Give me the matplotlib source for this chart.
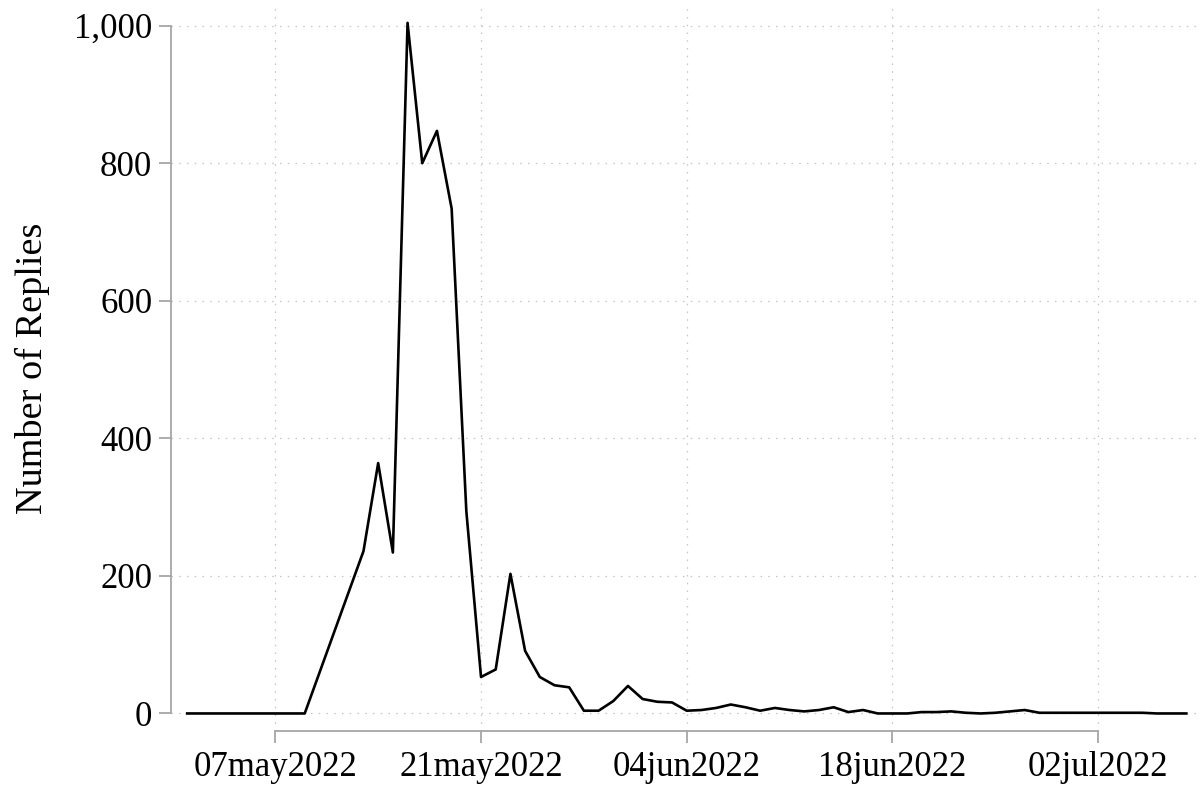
import matplotlib
matplotlib.use("Agg")
import matplotlib.pyplot as plt
import matplotlib.dates as mdates
import pandas as pd

# daily replies (no observations for 10-12 may)
dates = list(pd.date_range("2022-05-01", "2022-05-09")) + list(pd.date_range("2022-05-13", "2022-07-08"))
replies = [0, 0, 0, 0, 0, 0, 0, 0, 0,
           236, 364, 234, 1004, 800, 847, 734, 294,
           53, 64, 203, 91, 53, 41, 38, 4, 4, 18, 40,
           21, 17, 16, 4, 5, 8, 13, 9, 4, 8, 5, 3, 5, 9, 2, 5, 0,
           0, 0, 2, 2, 3, 1, 0, 1, 3, 5, 1, 1, 1, 1,
           1, 1, 1, 1, 0, 0, 0]

x_ticks = pd.to_datetime(["2022-05-07", "2022-05-21", "2022-06-04", "2022-06-18", "2022-07-02"])
x_labels = ["07may2022", "21may2022", "04jun2022", "18jun2022", "02jul2022"]
y_ticks = [0, 200, 400, 600, 800, 1000]
y_labels = ["0", "200", "400", "600", "800", "1,000"]

plt.rcParams['font.family'] = ['Liberation Serif', 'DejaVu Serif']
gray = "#a6a6a6"

fig = plt.figure(figsize=(12.01, 7.87), dpi=100)
W, H = 1201, 787
left, right, top, bottom = 171, 1201, 5, 731
ax = fig.add_axes([left / W, (H - bottom) / H, (right - left) / W, (bottom - top) / H])

ax.plot(dates, replies, color="black", linewidth=1.9, clip_on=False, zorder=3)

ax.set_xlim(pd.Timestamp("2022-05-07") - pd.Timedelta(days=7.1), pd.Timestamp("2022-07-02") + pd.Timedelta(days=7.0))
ax.set_ylim(-25.5, 1030)

ax.set_xticks(x_ticks)
ax.set_xticklabels(x_labels)
ax.set_yticks(y_ticks)
ax.set_yticklabels(y_labels)

ax.grid(True, color="#c4c4c4", linestyle=(0, (1.2, 5)), linewidth=0.9)
ax.set_axisbelow(True)

for s in ["top", "right"]:
    ax.spines[s].set_visible(False)
for s in ["left", "bottom"]:
    ax.spines[s].set_color(gray)
    ax.spines[s].set_linewidth(1.3)
ax.spines["left"].set_bounds(0, 1000)
ax.spines["bottom"].set_bounds(mdates.date2num(x_ticks[0]), mdates.date2num(x_ticks[-1]))

ax.tick_params(axis="both", colors=gray, length=8.5, width=1.3, labelcolor="black", labelsize=25)
ax.tick_params(axis="x", pad=6)
ax.tick_params(axis="y", pad=5)

ax.set_ylabel("Number of Replies", fontsize=27.5, labelpad=17)

fig.savefig("out.png", dpi=100)
